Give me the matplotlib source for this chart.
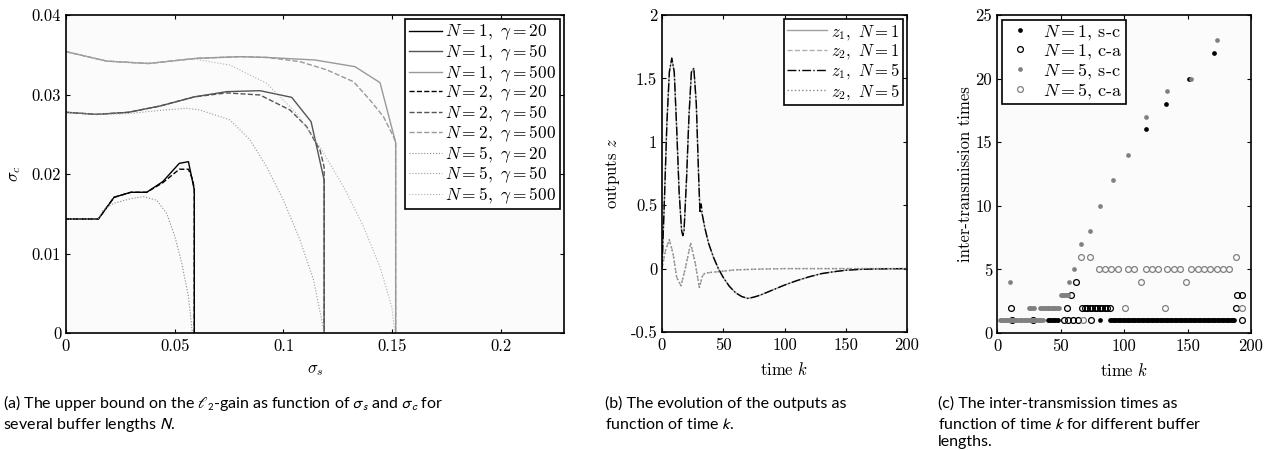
import numpy as np
import matplotlib
matplotlib.use("Agg")
from matplotlib import pyplot as plt
from matplotlib.ticker import FuncFormatter, MultipleLocator

# ---- panel (a): sigma_s / sigma_c curves ----
sa_n1_g20 = [0, 0.0149, 0.0221, 0.0298, 0.0371, 0.0445, 0.0521, 0.0563, 0.059, 0.059]
sc_n1_g20 = [0.01434, 0.01434, 0.01707, 0.0177, 0.0177, 0.01904, 0.02134, 0.02155, 0.018, 0]
sa_n1_g50 = [0, 0.0141, 0.0287, 0.0432, 0.059, 0.0739, 0.0892, 0.1038, 0.1127, 0.1187, 0.1187]
sc_n1_g50 = [0.02776, 0.0275, 0.02776, 0.02855, 0.0297, 0.03036, 0.03048, 0.02964, 0.02658, 0.01925, 0]
sa_n1_g500 = [0, 0.0187, 0.0379, 0.0601, 0.08, 0.0925, 0.1145, 0.1329, 0.1444, 0.1516, 0.1516]
sc_n1_g500 = [0.03539, 0.0342, 0.0339, 0.03455, 0.03476, 0.03466, 0.03434, 0.0335, 0.03149, 0.02394, 0]

sa_n2_g20 = [0, 0.0149, 0.0221, 0.0298, 0.0371, 0.0445, 0.0521, 0.0563, 0.0583, 0.059, 0.059]
sc_n2_g20 = [0.01434, 0.01434, 0.01707, 0.0177, 0.0177, 0.0189, 0.0206, 0.0206, 0.01925, 0.018, 0]
sa_n2_g50 = [0, 0.0141, 0.0287, 0.0432, 0.059, 0.0739, 0.0892, 0.103, 0.1107, 0.1168, 0.1187, 0.1187]
sc_n2_g50 = [0.02776, 0.0275, 0.02776, 0.02855, 0.0297, 0.0302, 0.02994, 0.02805, 0.02595, 0.023, 0.0209, 0]
sa_n2_g500 = [0, 0.0187, 0.0379, 0.0601, 0.08, 0.0925, 0.1076, 0.1199, 0.1322, 0.1398, 0.146, 0.1506, 0.1516, 0.1516]
sc_n2_g500 = [0.03539, 0.0342, 0.0339, 0.03455, 0.03476, 0.03466, 0.03413, 0.0331, 0.03161, 0.0293, 0.0272, 0.0247, 0.02394, 0]

sa_n5_g20 = [0, 0.0149, 0.0172, 0.0218, 0.0298, 0.0356, 0.0417, 0.0463, 0.0501, 0.0532, 0.0563, 0.0578, 0.0581]
sc_n5_g20 = [0.01434, 0.01434, 0.0155, 0.0163, 0.0169, 0.01715, 0.0167, 0.01505, 0.0121, 0.0088, 0.0046, 0.0008, 0]
sa_n5_g50 = [0, 0.0141, 0.0287, 0.0432, 0.0555, 0.0616, 0.0754, 0.0846, 0.0923, 0.1, 0.1076, 0.1138, 0.1176, 0.1187]
sc_n5_g50 = [0.02776, 0.0275, 0.0276, 0.0280, 0.02826, 0.02805, 0.0268, 0.0243, 0.0209, 0.0167, 0.0117, 0.0067, 0.0016, 0]
sa_n5_g500 = [0, 0.0187, 0.0379, 0.0586, 0.0616, 0.0754, 0.0923, 0.1061, 0.1168, 0.1276, 0.1368, 0.1444, 0.1498, 0.1513]
sc_n5_g500 = [0.03539, 0.0342, 0.0339, 0.03455, 0.03434, 0.0337, 0.0314, 0.0276, 0.0234, 0.0184, 0.0134, 0.0083, 0.0033, 0]

# ---- panel (b): outputs ----
k_z1 = [0, 2, 4, 6, 8, 10, 12, 14, 16, 17, 18, 20, 22, 24, 26, 28, 30, 31, 32, 33, 35, 38, 42, 46, 50,
        55, 60, 65, 70, 75, 80, 90, 100, 110, 120, 130, 140, 150, 160, 170, 180, 190, 200]
z1_n1 = [0, 0.55, 1.15, 1.55, 1.66, 1.55, 1.1, 0.6, 0.3, 0.26, 0.3, 0.7, 1.2, 1.55, 1.58, 1.3, 0.7, 0.46, 0.45, 0.42,
         0.32, 0.2, 0.09, 0.0, -0.07, -0.14, -0.19, -0.22, -0.235, -0.225, -0.21, -0.17, -0.13, -0.095, -0.065,
         -0.04, -0.025, -0.013, -0.007, -0.004, -0.002, -0.001, 0]
z1_n5 = [0, 0.55, 1.15, 1.55, 1.66, 1.55, 1.1, 0.6, 0.3, 0.26, 0.3, 0.7, 1.2, 1.55, 1.58, 1.3, 0.7, 0.44, 0.51, 0.42,
         0.32, 0.2, 0.09, 0.0, -0.07, -0.14, -0.19, -0.22, -0.235, -0.225, -0.21, -0.17, -0.13, -0.095, -0.065,
         -0.04, -0.025, -0.013, -0.007, -0.004, -0.002, -0.001, 0]
k_z2 = [0, 3, 6, 9, 12, 15.5, 19, 23.4, 27, 30.5, 33, 35, 40, 50, 60, 80, 100, 150, 200]
z2_n1 = [0, 0.15, 0.228, 0.12, -0.07, -0.135, 0.0, 0.2, 0.05, -0.148, -0.06, -0.035, -0.03, -0.02, -0.01,
         -0.004, 0, 0, 0]
z2_n5 = [0, 0.15, 0.228, 0.12, -0.07, -0.135, 0.0, 0.2, 0.05, -0.148, -0.06, -0.035, -0.03, -0.02, -0.01,
         -0.004, 0, 0, 0]

# ---- panel (c): inter-transmission times ----
k_n1_sc = [40, 41, 42, 43, 44, 45, 46, 47, 48, 81] + list(range(89, 188)) + [117, 133, 151, 171]
t_n1_sc = [1] * 10 + [1] * 99 + [16, 18, 20, 22]
k_n1_ca = [12, 28, 53, 56, 60, 64, 74, 11, 55, 67, 69, 71, 73, 75, 77, 79, 81, 83, 85, 87, 89, 188,
           58, 189, 193, 62, 193]
t_n1_ca = [1, 1, 1, 1, 1, 1, 1, 2, 2, 2, 2, 2, 2, 2, 2, 2, 2, 2, 2, 2, 2, 2,
           3, 3, 3, 4, 1]
k_n5_sc = list(range(2, 37)) + [25, 26, 27, 28, 29] + list(range(34, 50)) + [50, 51, 52, 53, 54, 55, 56] \
    + [10, 57, 61, 66, 73, 81, 91, 103, 117, 134, 153, 173]
t_n5_sc = [1] * 35 + [2] * 5 + [2] * 16 + [3] * 7 + [4, 4, 5, 7, 8, 10, 12, 14, 17, 19, 20, 23]
k_n5_ca = [68, 101, 132, 193, 113, 149, 80, 85, 90, 95, 103, 108, 117, 122, 127, 134, 139, 144, 153, 158,
           163, 168, 173, 178, 183, 66, 73, 188]
t_n5_ca = [1, 2, 2, 2, 4, 4] + [5] * 19 + [6, 6, 6]

plt.rcParams['font.family'] = ['cmr10', 'DejaVu Serif']
plt.rcParams['mathtext.fontset'] = 'cm'
plt.rcParams['axes.unicode_minus'] = False
plt.rcParams['axes.formatter.use_mathtext'] = True
plt.rcParams['font.size'] = 12
plt.rcParams['xtick.direction'] = 'in'
plt.rcParams['ytick.direction'] = 'in'
plt.rcParams['xtick.top'] = True
plt.rcParams['ytick.right'] = True
plt.rcParams['xtick.major.size'] = 3
plt.rcParams['ytick.major.size'] = 3
plt.rcParams['xtick.major.pad'] = 4
plt.rcParams['axes.linewidth'] = 1.2
plt.rcParams['legend.fancybox'] = False
plt.rcParams['legend.edgecolor'] = 'black'
plt.rcParams['legend.framealpha'] = 1

W, H = 1271, 450
fig = plt.figure(figsize=(W / 100, H / 100), dpi=100)


def box(l, r, t, b):
    return [l / W, 1 - b / H, (r - l) / W, (b - t) / H]


gfmt = FuncFormatter(lambda v, p: '%g' % v)
bg = '#fbfbfb'
c0, c1, c2 = 'black', '#555555', '#999999'

# (a)
ax = fig.add_axes(box(66, 564, 15, 333))
ax.set_facecolor(bg)
lw = 1.0
ax.plot(sa_n1_g20, sc_n1_g20, '-', color=c0, lw=lw, label=r'$N=1,\ \gamma=20$')
ax.plot(sa_n1_g50, sc_n1_g50, '-', color=c1, lw=lw, label=r'$N=1,\ \gamma=50$')
ax.plot(sa_n1_g500, sc_n1_g500, '-', color=c2, lw=lw, label=r'$N=1,\ \gamma=500$')
ax.plot(sa_n2_g20, sc_n2_g20, '--', color=c0, lw=lw, label=r'$N=2,\ \gamma=20$')
ax.plot(sa_n2_g50, sc_n2_g50, '--', color=c1, lw=lw, label=r'$N=2,\ \gamma=50$')
ax.plot(sa_n2_g500, sc_n2_g500, '--', color=c2, lw=lw, label=r'$N=2,\ \gamma=500$')
ax.plot(sa_n5_g20, sc_n5_g20, ':', color='#888888', lw=0.8, label=r'$N=5,\ \gamma=20$')
ax.plot(sa_n5_g50, sc_n5_g50, ':', color='#999999', lw=0.8, label=r'$N=5,\ \gamma=50$')
ax.plot(sa_n5_g500, sc_n5_g500, ':', color='#b0b0b0', lw=0.8, label=r'$N=5,\ \gamma=500$')
ax.set_xlim(0, 0.229)
ax.set_ylim(0, 0.04)
ax.xaxis.set_major_locator(MultipleLocator(0.05))
ax.yaxis.set_major_locator(MultipleLocator(0.01))
ax.xaxis.set_major_formatter(gfmt)
ax.yaxis.set_major_formatter(gfmt)
ax.set_xlabel(r'$\sigma_s$', labelpad=6)
ax.set_ylabel(r'$\sigma_c$', labelpad=6)
ax.legend(loc='upper right', fontsize=12.5, handlelength=1.9, handletextpad=0.2, labelspacing=0.0,
          borderpad=0.2, borderaxespad=0.25).get_frame().set_linewidth(1.2)

# (b)
ax = fig.add_axes(box(662, 907, 15, 332))
ax.set_facecolor(bg)
ax.plot(k_z1, z1_n1, '-', color='#a0a0a0', lw=1.0, label=r'$z_1,\ N=1$')
ax.plot(k_z2, z2_n1, '--', color='#b0b0b0', lw=1.0, label=r'$z_2,\ N=1$')
ax.plot(k_z1, z1_n5, '-.', color='black', lw=1.0, label=r'$z_1,\ N=5$')
ax.plot(k_z2, z2_n5, ':', color='#888888', lw=1.0, label=r'$z_2,\ N=5$')
ax.set_xlim(0, 200)
ax.set_ylim(-0.5, 2)
ax.xaxis.set_major_locator(MultipleLocator(50))
ax.yaxis.set_major_locator(MultipleLocator(0.5))
ax.xaxis.set_major_formatter(gfmt)
ax.yaxis.set_major_formatter(gfmt)
ax.set_xlabel(r'time $k$', labelpad=6)
ax.set_ylabel(r'outputs $z$', labelpad=6)
ax.legend(loc='upper right', fontsize=12, handlelength=2.4, handletextpad=0.2, labelspacing=0.02,
          borderpad=0.2, borderaxespad=0.25).get_frame().set_linewidth(1.2)

# (c)
ax = fig.add_axes(box(997, 1251, 15, 333))
ax.set_facecolor(bg)
ax.plot(k_n1_sc, t_n1_sc, 'o', color='black', ms=3.4, mew=0, ls='none', label=r'$N=1$, s-c')
ax.plot(k_n1_ca, t_n1_ca, 'o', mfc='none', mec='black', ms=4.2, mew=0.9, ls='none', label=r'$N=1$, c-a')
ax.plot(k_n5_sc, t_n5_sc, 'o', color='#808080', ms=3.4, mew=0, ls='none', label=r'$N=5$, s-c')
ax.plot(k_n5_ca, t_n5_ca, 'o', mfc='none', mec='#808080', ms=4.2, mew=0.9, ls='none', label=r'$N=5$, c-a')
ax.set_xlim(0, 200)
ax.set_ylim(0, 25)
ax.xaxis.set_major_locator(MultipleLocator(50))
ax.yaxis.set_major_locator(MultipleLocator(5))
ax.xaxis.set_major_formatter(gfmt)
ax.yaxis.set_major_formatter(gfmt)
ax.set_xlabel(r'time $k$', labelpad=6)
ax.set_ylabel('inter-transmission times', labelpad=2)
ax.legend(loc='upper left', fontsize=13, handlelength=1.6, handletextpad=0.5, labelspacing=0.0,
          borderpad=0.2, borderaxespad=0.25).get_frame().set_linewidth(1.2)

# captions, one text per line
cap = dict(family=['Lato', 'DejaVu Sans'], fontsize=11.5, math_fontfamily='stixsans', va='baseline', ha='left')
cap_a = ['(a) The upper bound on the $\\ell_2$-gain as function of $\\sigma_s$ and $\\sigma_c$ for',
         'several buffer lengths $N$.']
cap_b = ['(b) The evolution of the outputs as', 'function of time $k$.']
cap_c = ['(c) The inter-transmission times as', 'function of time $k$ for different buffer', 'lengths.']
base_y = [408, 429, 446]
for x0, lines in [(3, cap_a), (605, cap_b), (938, cap_c)]:
    for i, line in enumerate(lines):
        fig.text(x0 / W, 1 - base_y[i] / H, line, **cap)

plt.savefig('out.png', dpi=100)
